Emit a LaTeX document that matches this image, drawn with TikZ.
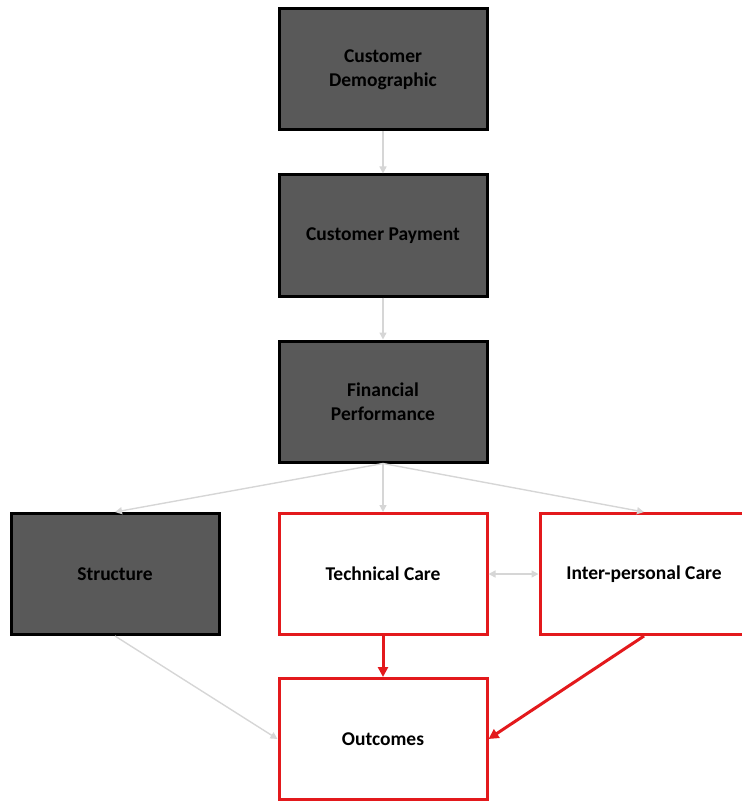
\documentclass[tikz,border=0pt]{standalone}
\usepackage{fontspec}
\setmainfont{Carlito}
\usetikzlibrary{arrows.meta}
\definecolor{boxgray}{HTML}{595959}
\definecolor{boxred}{HTML}{E3191C}
\definecolor{linegray}{HTML}{D6D6D6}
\tikzset{
  basebox/.style={line width=3pt, minimum width=208pt, minimum height=121pt, inner sep=0pt, align=center, font=\bfseries\fontsize{19.5}{24}\selectfont, text=black},
  darkbox/.style={basebox, draw=black, fill=boxgray},
  redbox/.style={basebox, draw=boxred, fill=white},
  grayarrow/.style={draw=linegray, line width=1.4pt, -{Triangle[width=7pt,length=7pt]}},
  grayboth/.style={draw=linegray, line width=1.4pt, {Triangle[width=7pt,length=7pt]}-{Triangle[width=7pt,length=7pt]}},
  redarrow/.style={draw=boxred, line width=3pt, -{Triangle[width=10pt,length=10pt]}}
}
\begin{document}
\begin{tikzpicture}[x=1pt,y=1pt]
\useasboundingbox (0,0) rectangle (741,-802);
\node[darkbox] (demo) at (383,-69.5) {Customer\\Demographic};
\node[darkbox] (pay) at (383,-235.5) {Customer Payment};
\node[darkbox] (fin) at (383,-401.5) {Financial\\Performance};
\node[darkbox] (struct) at (115,-574) {Structure};
\node[redbox] (tech) at (383,-574) {Technical Care};
\node[redbox] (inter) at (644,-574) {Inter-personal Care};
\node[redbox] (out) at (383,-739) {Outcomes};
\draw[grayarrow] (demo.south) -- (pay.north);
\draw[grayarrow] (pay.south) -- (fin.north);
\draw[grayarrow] (fin.south) -- (struct.north);
\draw[grayarrow] (fin.south) -- (tech.north);
\draw[grayarrow] (fin.south) -- (inter.north);
\draw[grayboth] (tech.east) -- (inter.west);
\draw[grayarrow] (struct.south) -- (out.west);
\draw[redarrow] (tech.south) -- (out.north);
\draw[redarrow] (inter.south) -- (out.east);
\end{tikzpicture}
\end{document}
